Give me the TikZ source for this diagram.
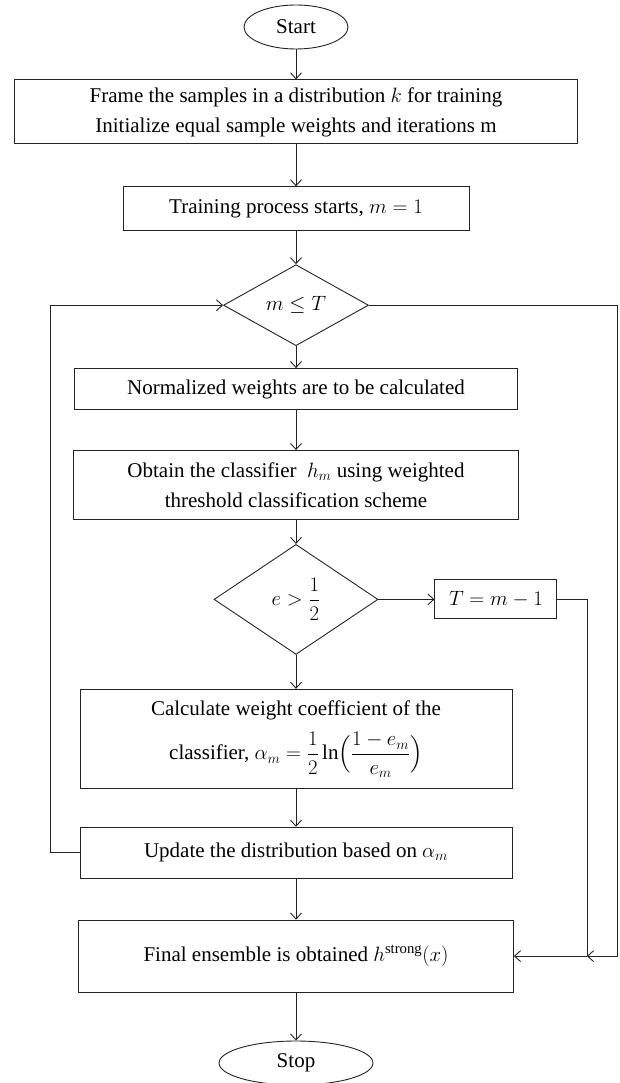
\documentclass[tikz,border=0pt]{standalone}
\usepackage{amsmath}
\usepackage{fontspec}
\setmainfont{Liberation Serif}
\usetikzlibrary{shapes.geometric, arrows.meta, positioning, calc}
\definecolor{linegray}{RGB}{35, 35, 35}
\tikzset{
  stepbox/.style={rectangle, draw=linegray, line width=0.9pt,
              minimum width=#1, align=center, inner sep=4pt},
  stepbox/.default=432pt,
  termbox/.style={ellipse, draw=linegray, line width=0.9pt,
              minimum height=44pt, inner sep=2pt},
  testbox/.style={diamond, draw=linegray, line width=0.9pt, inner sep=0pt},
  arrow/.style={-{Straight Barb[length=6pt,width=11pt]}, line width=0.9pt, color=linegray},
  plainline/.style={line width=0.9pt, color=linegray},
}

\begin{document}
\begin{tikzpicture}[x=1pt, y=1pt, every node/.style={font=\fontsize{21}{30}\selectfont}]
  \useasboundingbox (0,0) rectangle (619,-1083);

  \node[termbox, minimum width=104pt] (start) at (296,-27) {Start};
  \node[stepbox=563pt, minimum height=64pt, below=30pt of start] (frame)
        {Frame the samples in a distribution $k$ for training\\Initialize equal sample weights and iterations m};
  \node[stepbox=346pt, minimum height=44pt, below=42pt of frame] (train)
        {Training process starts, $m=1$};
  \node[testbox, minimum width=145pt, minimum height=81pt, below=33pt of train] (check)
        {$m \le T$};
  \node[stepbox=443pt, minimum height=41pt, below=22pt of check] (norm)
        {Normalized weights are to be calculated};
  \node[stepbox=445pt, minimum height=69pt, below=40pt of norm] (obtain)
        {Obtain the classifier \ $h_m$ using weighted\\threshold classification scheme};
  \node[testbox, minimum width=164pt, minimum height=110pt, below=24pt of obtain] (errtest)
        {$e > \dfrac{1}{2}$};
  \node[stepbox=122pt, minimum height=39pt, right=56pt of errtest] (setT)
        {$T = m-1$};
  \node[stepbox=432pt, minimum height=99pt, below=34pt of errtest] (coeff)
        {Calculate weight coefficient of the\\[12pt]classifier, $\alpha_m = \dfrac{1}{2}\ln\Bigl(\dfrac{1-e_m}{e_m}\Bigr)$};
  \node[stepbox=432pt, minimum height=51pt, below=38pt of coeff] (update)
        {Update the distribution based on $\alpha_m$};
  \node[stepbox=435pt, minimum height=72pt, below=41pt of update] (final)
        {Final ensemble is obtained $h^{\text{strong}}(x)$};
  \node[termbox, minimum width=154pt, below=48pt of final] (stop) {Stop};

  \coordinate (loopx) at (50,0);
  \coordinate (outerx) at (617,0);
  \coordinate (join) at ($(final.east)+(73,0)$);

  \draw[arrow] (start) -- (frame);
  \draw[arrow] (frame) -- (train);
  \draw[arrow] (train) -- (check);
  \draw[arrow] (check) -- (norm);
  \draw[arrow] (norm) -- (obtain);
  \draw[arrow] (obtain) -- (errtest);
  \draw[arrow] (errtest) -- (setT);
  \draw[arrow] (errtest) -- (coeff);
  \draw[arrow] (coeff) -- (update);
  \draw[arrow] (update) -- (final);
  \draw[arrow] (final) -- (stop);

  \draw[arrow] (update.west) -- (update.west -| loopx) |- (check.west);
  \draw[arrow] (check.east) -- (check.east -| outerx) |- (join);
  \draw[plainline] (setT.east) -| (join);
  \draw[arrow] (join) -- (final.east);
\end{tikzpicture}
\end{document}
